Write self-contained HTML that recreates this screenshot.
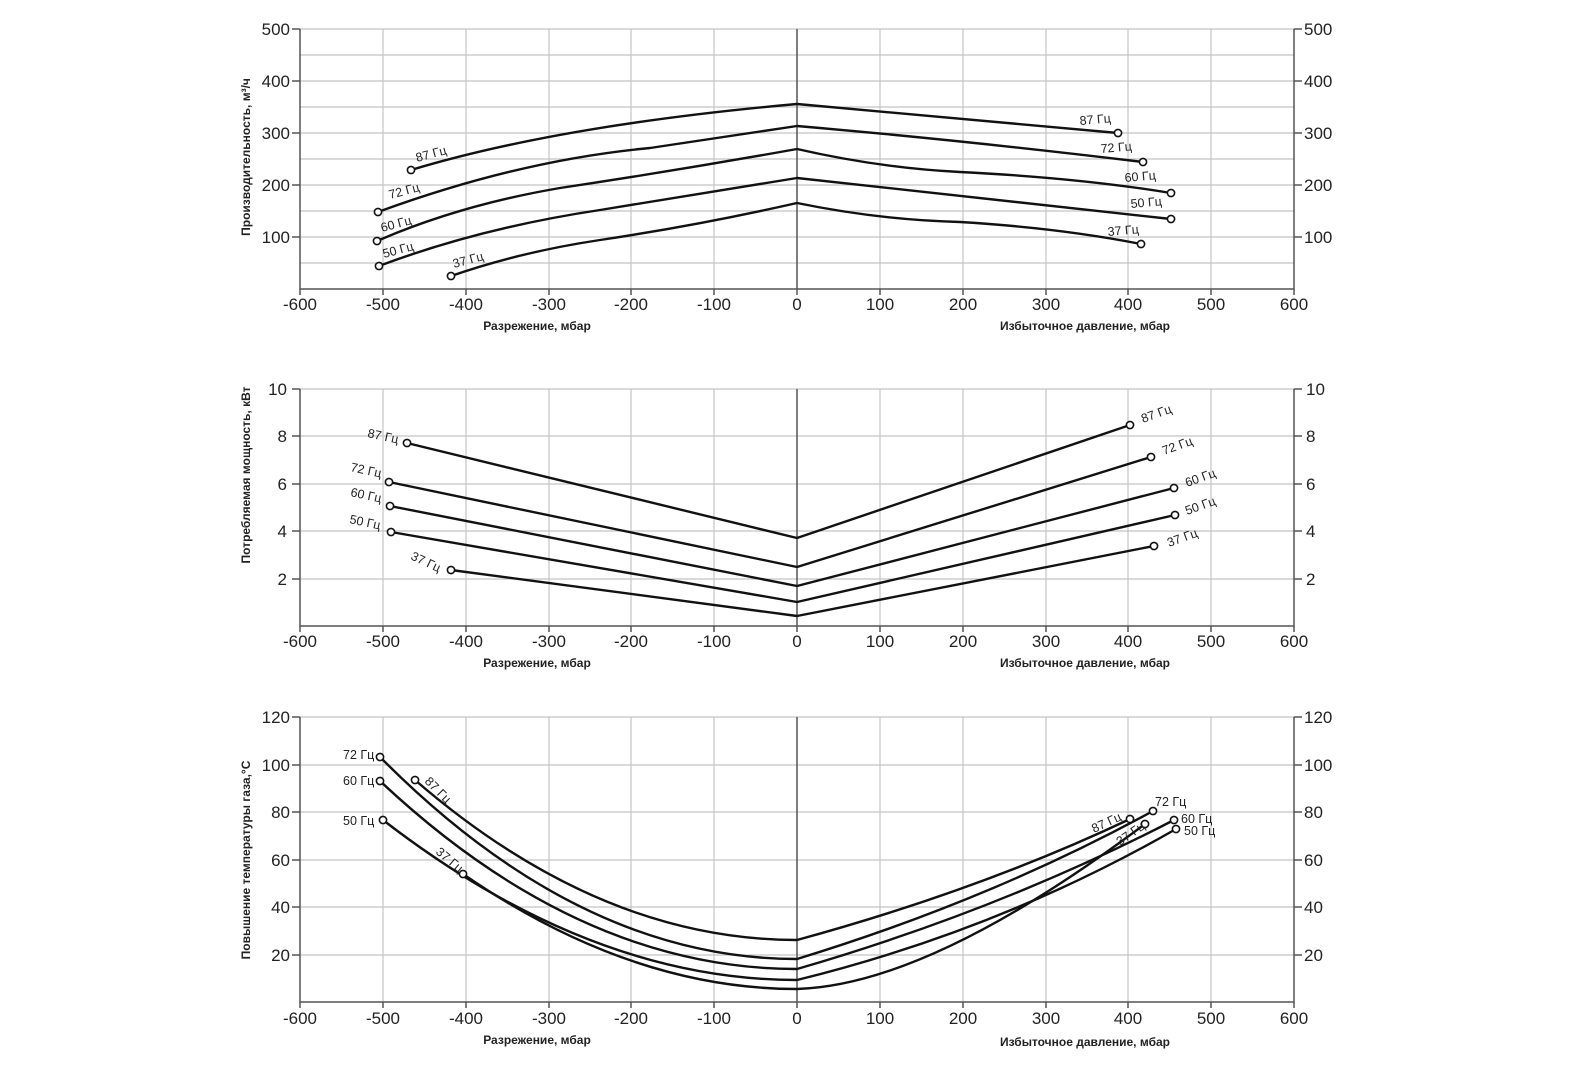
<!DOCTYPE html>
<html><head><meta charset="utf-8"><style>
html,body{margin:0;padding:0;background:#fff;overflow:hidden;width:1577px;height:1080px;}
svg{display:block;font-family:"Liberation Sans",sans-serif;}
.t{font-size:17px;fill:#222;}
.g{stroke:#c4c4c4;stroke-width:1.2;fill:none;}
.a{stroke:#555;stroke-width:1.5;fill:none;}
.c{stroke:#111;stroke-width:2.4;fill:none;stroke-linejoin:round;}
.p{stroke:#111;stroke-width:1.6;fill:#fff;}
.l{font-size:12.5px;fill:#222;}
.b{font-size:12px;font-weight:bold;fill:#222;}
</style></head><body>
<svg width="1577" height="1080" viewBox="0 0 1577 1080">
<path class="g" d="M383 29V289M466 29V289M549 29V289M631 29V289M714 29V289M880 29V289M963 29V289M1046 29V289M1128 29V289M1211 29V289"/>
<path class="g" d="M383 389V626M466 389V626M549 389V626M631 389V626M714 389V626M880 389V626M963 389V626M1046 389V626M1128 389V626M1211 389V626"/>
<path class="g" d="M383 717V1002M466 717V1002M549 717V1002M631 717V1002M714 717V1002M880 717V1002M963 717V1002M1046 717V1002M1128 717V1002M1211 717V1002"/>
<path class="g" d="M300 29H1294M300 55H1294M300 81H1294M300 107H1294M300 133H1294M300 159H1294M300 185H1294M300 211H1294M300 237H1294M300 263H1294"/>
<path class="g" d="M300 389H1294M300 436H1294M300 484H1294M300 531H1294M300 579H1294"/>
<path class="g" d="M300 717H1294M300 765H1294M300 812H1294M300 860H1294M300 907H1294M300 955H1294"/>
<path class="a" d="M300 29V289H1294V29M797 29V289"/>
<path class="a" d="M292 29H300M292 81H300M292 133H300M292 185H300M292 237H300M1294 29H1302M1294 81H1302M1294 133H1302M1294 185H1302M1294 237H1302"/>
<path class="a" d="M300 289v6M383 289v6M466 289v6M549 289v6M631 289v6M714 289v6M797 289v6M880 289v6M963 289v6M1046 289v6M1128 289v6M1211 289v6M1294 289v6"/>
<path class="a" d="M300 389V626H1294V389M797 389V626"/>
<path class="a" d="M292 389H300M292 436H300M292 484H300M292 531H300M292 579H300M1294 389H1302M1294 436H1302M1294 484H1302M1294 531H1302M1294 579H1302"/>
<path class="a" d="M300 626v6M383 626v6M466 626v6M549 626v6M631 626v6M714 626v6M797 626v6M880 626v6M963 626v6M1046 626v6M1128 626v6M1211 626v6M1294 626v6"/>
<path class="a" d="M300 717V1002H1294V717M797 717V1002"/>
<path class="a" d="M292 717H300M292 765H300M292 812H300M292 860H300M292 907H300M292 955H300M1294 717H1302M1294 765H1302M1294 812H1302M1294 860H1302M1294 907H1302M1294 955H1302"/>
<path class="a" d="M300 1002v6M383 1002v6M466 1002v6M549 1002v6M631 1002v6M714 1002v6M797 1002v6M880 1002v6M963 1002v6M1046 1002v6M1128 1002v6M1211 1002v6M1294 1002v6"/>

<g class="t" text-anchor="end">
<text x="290" y="35">500</text><text x="290" y="87">400</text><text x="290" y="139">300</text><text x="290" y="191">200</text><text x="290" y="243">100</text>
<text x="287" y="395">10</text><text x="287" y="442">8</text><text x="287" y="490">6</text><text x="287" y="537">4</text><text x="287" y="585">2</text>
<text x="290" y="723">120</text><text x="290" y="771">100</text><text x="290" y="818">80</text><text x="290" y="866">60</text><text x="290" y="913">40</text><text x="290" y="961">20</text>
</g>
<g class="t">
<text x="1304" y="35">500</text><text x="1304" y="87">400</text><text x="1304" y="139">300</text><text x="1304" y="191">200</text><text x="1304" y="243">100</text>
<text x="1306" y="395">10</text><text x="1306" y="442">8</text><text x="1306" y="490">6</text><text x="1306" y="537">4</text><text x="1306" y="585">2</text>
<text x="1304" y="723">120</text><text x="1304" y="771">100</text><text x="1304" y="818">80</text><text x="1304" y="866">60</text><text x="1304" y="913">40</text><text x="1304" y="961">20</text>
</g>
<g class="t" text-anchor="middle">
<text x="300" y="310">-600</text><text x="383" y="310">-500</text><text x="466" y="310">-400</text><text x="549" y="310">-300</text><text x="631" y="310">-200</text><text x="714" y="310">-100</text><text x="797" y="310">0</text><text x="880" y="310">100</text><text x="963" y="310">200</text><text x="1046" y="310">300</text><text x="1128" y="310">400</text><text x="1211" y="310">500</text><text x="1294" y="310">600</text>
<text x="300" y="647">-600</text><text x="383" y="647">-500</text><text x="466" y="647">-400</text><text x="549" y="647">-300</text><text x="631" y="647">-200</text><text x="714" y="647">-100</text><text x="797" y="647">0</text><text x="880" y="647">100</text><text x="963" y="647">200</text><text x="1046" y="647">300</text><text x="1128" y="647">400</text><text x="1211" y="647">500</text><text x="1294" y="647">600</text>
<text x="300" y="1024">-600</text><text x="383" y="1024">-500</text><text x="466" y="1024">-400</text><text x="549" y="1024">-300</text><text x="631" y="1024">-200</text><text x="714" y="1024">-100</text><text x="797" y="1024">0</text><text x="880" y="1024">100</text><text x="963" y="1024">200</text><text x="1046" y="1024">300</text><text x="1128" y="1024">400</text><text x="1211" y="1024">500</text><text x="1294" y="1024">600</text>
</g>
<g class="b" text-anchor="middle">
<text x="537" y="330">Разрежение, мбар</text><text x="1085" y="330">Избыточное давление, мбар</text>
<text x="537" y="667">Разрежение, мбар</text><text x="1085" y="667">Избыточное давление, мбар</text>
<text x="537" y="1044">Разрежение, мбар</text><text x="1085" y="1046">Избыточное давление, мбар</text>
<text transform="translate(250,157) rotate(-90)">Производительность, м³/ч</text>
<text transform="translate(250,475) rotate(-90)">Потребляемая мощность, кВт</text>
<text transform="translate(250,860) rotate(-90)">Повышение температуры газа,°С</text>
</g>

<path class="c" d="M411 170 Q560 125 797 104 L1118 133"/>
<path class="c" d="M378 212 Q520 160 650 148 L797 126 Q960 140 1143 162"/>
<path class="c" d="M377 241 Q460 205 560 188 Q680 170 797 149 Q880 168 960 172 Q1080 178 1171 193"/>
<path class="c" d="M379 266 Q480 228 600 210 L797 178 L1171 219"/>
<path class="c" d="M451 276 Q520 252 600 240 Q700 225 797 203 Q880 220 960 222 Q1060 228 1141 244"/>
<g class="p"><circle cx="411" cy="170" r="3.6"/><circle cx="378" cy="212" r="3.6"/><circle cx="377" cy="241" r="3.6"/><circle cx="379" cy="266" r="3.6"/><circle cx="451" cy="276" r="3.6"/>
<circle cx="1118" cy="133" r="3.6"/><circle cx="1143" cy="162" r="3.6"/><circle cx="1171" cy="193" r="3.6"/><circle cx="1171" cy="219" r="3.6"/><circle cx="1141" cy="244" r="3.6"/></g>
<g class="l">
<text transform="translate(417,162) rotate(-15)">87 Гц</text><text transform="translate(390,199) rotate(-15)">72 Гц</text><text transform="translate(382,232) rotate(-15)">60 Гц</text><text transform="translate(384,258) rotate(-15)">50 Гц</text><text transform="translate(454,268) rotate(-15)">37 Гц</text>
<text transform="translate(1080,125) rotate(-5)">87 Гц</text><text transform="translate(1101,153) rotate(-5)">72 Гц</text><text transform="translate(1125,182) rotate(-5)">60 Гц</text><text transform="translate(1131,208) rotate(-5)">50 Гц</text><text transform="translate(1108,236) rotate(-5)">37 Гц</text>
</g>

<path class="c" d="M407 443 L797 538 L1130 425"/>
<path class="c" d="M389 482 L797 567 L1151 457"/>
<path class="c" d="M390 506 L797 586 L1174 488"/>
<path class="c" d="M391 532 L797 602 L1175 515"/>
<path class="c" d="M451 570 L797 616 L1154 546"/>
<g class="p"><circle cx="407" cy="443" r="3.6"/><circle cx="389" cy="482" r="3.6"/><circle cx="390" cy="506" r="3.6"/><circle cx="391" cy="532" r="3.6"/><circle cx="451" cy="570" r="3.6"/>
<circle cx="1130" cy="425" r="3.6"/><circle cx="1151" cy="457" r="3.6"/><circle cx="1174" cy="488" r="3.6"/><circle cx="1175" cy="515" r="3.6"/><circle cx="1154" cy="546" r="3.6"/></g>
<g class="l">
<text transform="translate(367,437) rotate(12)">87 Гц</text><text transform="translate(350,471) rotate(12)">72 Гц</text><text transform="translate(350,496) rotate(12)">60 Гц</text><text transform="translate(349,523) rotate(12)">50 Гц</text><text transform="translate(410,559) rotate(25)">37 Гц</text>
<text transform="translate(1143,423) rotate(-20)">87 Гц</text><text transform="translate(1164,455) rotate(-20)">72 Гц</text><text transform="translate(1187,487) rotate(-20)">60 Гц</text><text transform="translate(1187,515) rotate(-20)">50 Гц</text><text transform="translate(1169,547) rotate(-20)">37 Гц</text>
</g>

<path class="c" d="M415 780 Q600 940 797 940 Q980 890 1130 819"/>
<path class="c" d="M380 757 Q580 959 797 959 Q990 900 1153 811"/>
<path class="c" d="M380 781 Q580 969 797 969 Q1000 910 1174 820"/>
<path class="c" d="M383 820 Q590 980 797 980 Q1000 930 1176 829"/>
<path class="c" d="M463 874 Q630 989 797 989 Q930 985 1145 824"/>
<g class="p"><circle cx="415" cy="780" r="3.6"/><circle cx="380" cy="757" r="3.6"/><circle cx="380" cy="781" r="3.6"/><circle cx="383" cy="820" r="3.6"/><circle cx="463" cy="874" r="3.6"/>
<circle cx="1130" cy="819" r="3.6"/><circle cx="1153" cy="811" r="3.6"/><circle cx="1174" cy="820" r="3.6"/><circle cx="1176" cy="829" r="3.6"/><circle cx="1145" cy="824" r="3.6"/></g>
<g class="l">
<text x="343" y="759">72 Гц</text><text x="343" y="785">60 Гц</text><text x="343" y="825">50 Гц</text>
<text transform="translate(424,782) rotate(45)">87 Гц</text><text transform="translate(435,853) rotate(40)">37 Гц</text>
<text x="1155" y="806">72 Гц</text><text x="1181" y="823">60 Гц</text><text x="1184" y="835">50 Гц</text>
<text transform="translate(1094,833) rotate(-25)">87 Гц</text><text transform="translate(1120,846) rotate(-35)">37 Гц</text>
</g>
</svg>
</body></html>
